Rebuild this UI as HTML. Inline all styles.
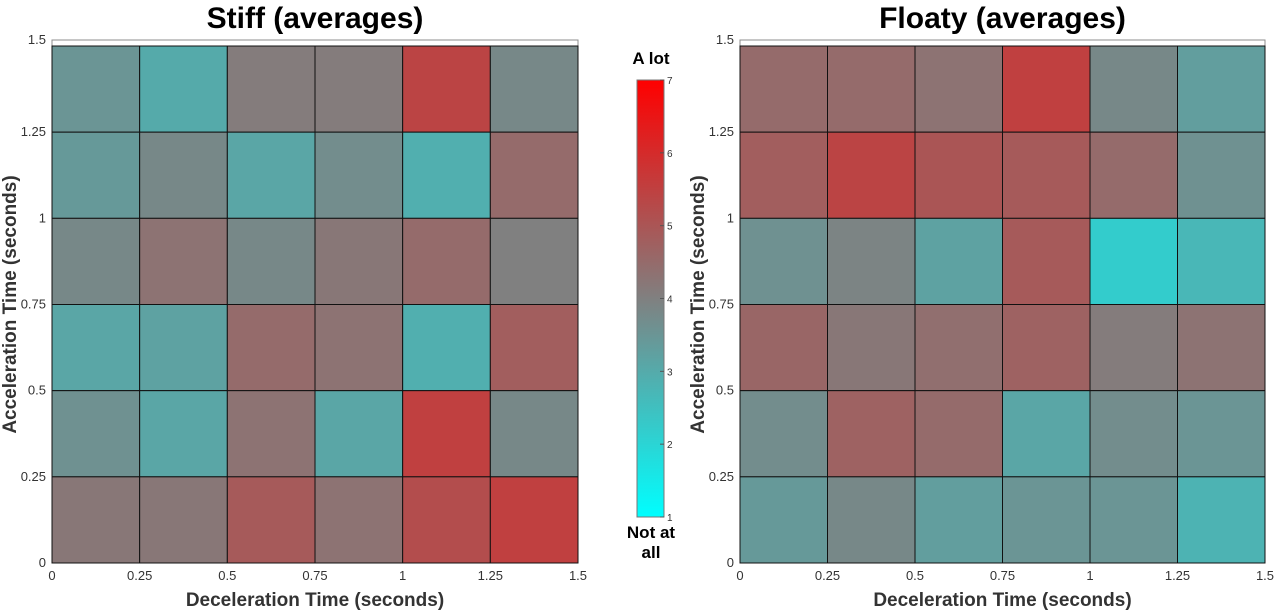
<!DOCTYPE html>
<html><head><meta charset="utf-8"><style>
body{margin:0;background:#fff;width:1280px;height:611px;overflow:hidden;font-family:"Liberation Sans",sans-serif}
</style></head><body>
<svg id="s" width="1280" height="611" xmlns="http://www.w3.org/2000/svg"></svg>
<script>
const xTicks=[0,0.25,0.5,0.75,1,1.25,1.5];
const xTickLabels=["0","0.25","0.5","0.75","1","1.25","1.5"];
const yTicks=[0,0.25,0.5,0.75,1,1.25,1.5];
const yTickLabels=["0","0.25","0.5","0.75","1","1.25","1.5"];
const cbTicks=[1,2,3,4,5,6,7];
// rows listed from top (acc 1.25-1.5) to bottom (acc 0-0.25); columns dec 0..1.5
const stiffValues=[
[3.5,3.0,4.1,4.1,5.4,3.8],
[3.4,3.8,3.1,3.7,2.9,4.5],
[3.8,4.3,3.8,4.2,4.5,4.0],
[3.1,3.2,4.5,4.3,2.9,4.8],
[3.6,3.1,4.3,3.1,5.5,3.8],
[4.2,4.2,4.9,4.3,5.2,5.5]];
const floatyValues=[
[4.5,4.5,4.3,5.5,3.8,3.3],
[4.8,5.4,5.0,4.9,4.5,3.6],
[3.6,3.9,3.2,4.9,2.2,2.7],
[4.6,4.2,4.4,4.7,4.1,4.3],
[3.7,4.7,4.5,3.1,3.7,3.5],
[3.4,3.8,3.3,3.5,3.5,2.8]];
const svg=document.getElementById('s');
const NS="http://www.w3.org/2000/svg";
function mk(t,a,txt){const e=document.createElementNS(NS,t);for(const k in a)e.setAttribute(k,a[k]);if(txt!==undefined)e.textContent=txt;svg.appendChild(e);return e;}
function col(v){const t=Math.max(0,Math.min(1,(v-1)/6));let r,g,b;
 if(t<0.5){const u=t/0.5;r=128*u;g=255-127*u;b=g;}else{const u=(t-0.5)/0.5;r=128+127*u;g=128-128*u;b=g;}
 return `rgb(${Math.round(r)},${Math.round(g)},${Math.round(b)})`;}
function panel(x0,x1,title,vals,nm){
 const yBot=563,yTop=46,boxTop=40;
 const X=v=>x0+(x1-x0)*v/1.5, Y=v=>yBot-(yBot-yTop)*v/1.5;
 let t=mk('text',{x:(x0+x1)/2,y:28,'text-anchor':'middle','font-size':30,'font-weight':'bold',fill:'#000'},title);
 
 let bx=mk('rect',{x:x0,y:boxTop,width:x1-x0,height:yBot-boxTop,fill:'#fff',stroke:'#8c8c8c','stroke-width':1});
 
 vals.forEach((row,ri)=>{const yv=1.5-0.25*ri;row.forEach((v,ci)=>{const xv=0.25*ci;
  const r=mk('rect',{x:X(xv),y:Y(yv),width:X(xv+0.25)-X(xv),height:Y(yv-0.25)-Y(yv),fill:col(v),stroke:'#111','stroke-width':1});
  });});
 xTicks.forEach((v,i)=>{const l=mk('text',{x:X(v),y:yBot+17,'text-anchor':'middle','font-size':13,fill:'#333'},xTickLabels[i]);
  });
 yTicks.forEach((v,i)=>{const yy=v===1.5?boxTop:Y(v);const l=mk('text',{x:x0-6,y:yy+4,'text-anchor':'end','font-size':13,fill:'#333'},yTickLabels[i]);
  });
 const xl=mk('text',{x:(x0+x1)/2,y:606,'text-anchor':'middle','font-size':19,'font-weight':'bold',fill:'#333'},'Deceleration Time (seconds)');
 
 const cx=x0-36,cy=(yTop+yBot)/2;
 const yl=mk('text',{x:cx,y:cy,'text-anchor':'middle','font-size':19,'font-weight':'bold',fill:'#333',transform:`rotate(-90 ${cx} ${cy})`},'Acceleration Time (seconds)');
 
}
panel(52,578,'Stiff (averages)',stiffValues,'stiff');
panel(740,1265,'Floaty (averages)',floatyValues,'floaty');
// colorbar
const cbX=637,cbW=27,cbTop=80,cbBot=517;
const defs=mk('defs',{});
const lg=document.createElementNS(NS,'linearGradient');lg.setAttribute('id','g');lg.setAttribute('x1','0');lg.setAttribute('y1','1');lg.setAttribute('x2','0');lg.setAttribute('y2','0');
[[0,'rgb(0,255,255)'],[0.5,'rgb(128,128,128)'],[1,'rgb(255,0,0)']].forEach(s=>{const st=document.createElementNS(NS,'stop');st.setAttribute('offset',s[0]);st.setAttribute('stop-color',s[1]);lg.appendChild(st);});
defs.appendChild(lg);
const cb=mk('rect',{x:cbX,y:cbTop,width:cbW,height:cbBot-cbTop,fill:'url(#g)',stroke:'#777','stroke-width':1});

const CY=v=>cbBot-(cbBot-cbTop)*(v-1)/6;
cbTicks.forEach(v=>{mk('line',{x1:cbX+cbW-4,x2:cbX+cbW,y1:CY(v),y2:CY(v),stroke:'#555'});
 const l=mk('text',{x:cbX+cbW+3,y:CY(v)+4,'font-size':10,fill:'#333'},String(v));
 });
const a=mk('text',{x:651,y:64,'text-anchor':'middle','font-size':17,'font-weight':'bold'},'A lot');

const n1=mk('text',{x:651,y:538,'text-anchor':'middle','font-size':17,'font-weight':'bold'},'Not at');

const n2=mk('text',{x:651,y:558,'text-anchor':'middle','font-size':17,'font-weight':'bold'},'all');

</script>
</body></html>
